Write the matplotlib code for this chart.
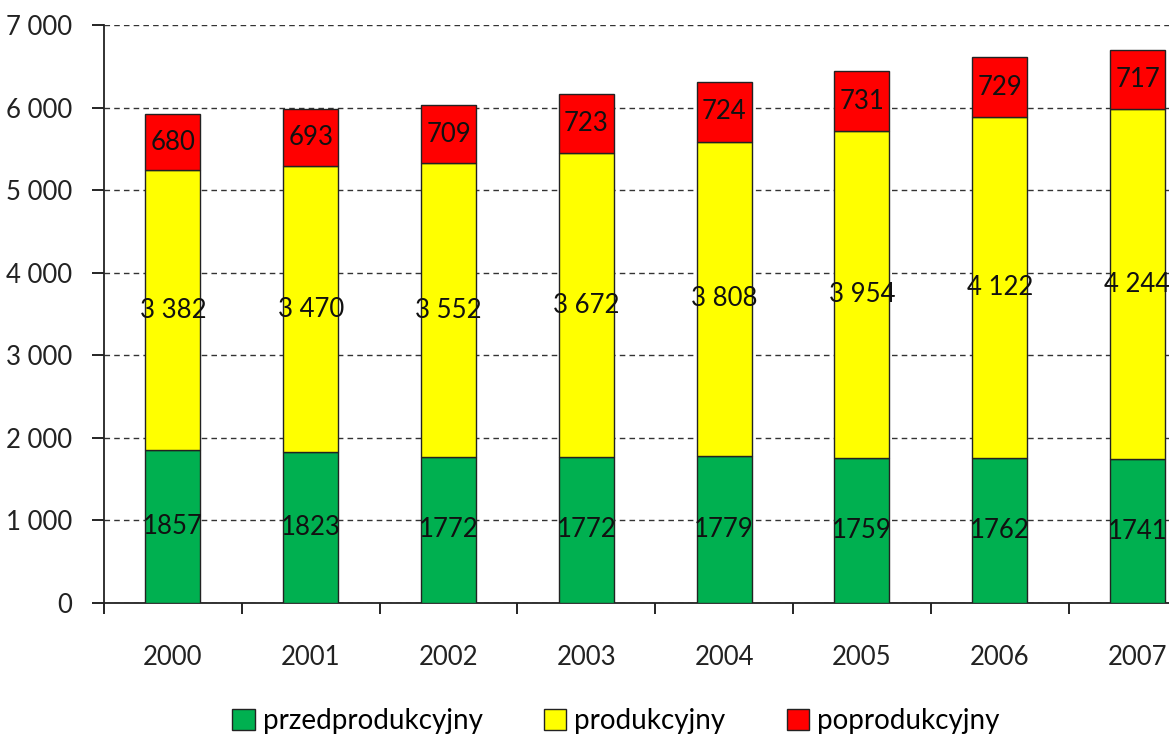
import numpy as np
import matplotlib.pyplot as plt
from matplotlib.ticker import FuncFormatter, FixedLocator
from matplotlib.patches import Patch

plt.rcParams['font.family'] = ['Lato', 'DejaVu Sans']

# data
years = ['2000', '2001', '2002', '2003', '2004', '2005', '2006', '2007']
przed = [1857, 1823, 1772, 1772, 1779, 1759, 1762, 1741]
prod = [3382, 3470, 3552, 3672, 3808, 3954, 4122, 4244]
popr = [680, 693, 709, 723, 724, 731, 729, 717]
series_names = ['przedprodukcyjny', 'produkcyjny', 'poprodukcyjny']
colors = ['#00B050', '#FFFF00', '#FF0000']

W, H = 1169, 734
fig = plt.figure(figsize=(W / 100, H / 100), dpi=100)
# axes extends past the right edge like the original crop
x0, x1 = 104, 104 + 8 * 137.8
y0, y1 = 603, 25
ax = fig.add_axes([x0 / W, 1 - y0 / H, (x1 - x0) / W, (y0 - y1) / H])

x = np.arange(len(years))
bottom = np.zeros(len(years))
for vals, col in zip([przed, prod, popr], colors):
    vals = np.array(vals)
    ax.bar(x, vals, width=0.4, bottom=bottom, color=col, edgecolor='#222222',
           linewidth=1.0, zorder=3)
    for xi, b, v in zip(x, bottom, vals):
        lab = f'{v:,}'.replace(',', ' ') if v >= 2000 else str(v)
        ax.text(xi, b + v / 2, lab, ha='center', va='center', fontsize=18.5,
                color='#111111', zorder=4)
    bottom += vals

ax.set_xlim(-0.5, len(years) - 0.5)
ax.set_ylim(0, 7000)
ax.set_yticks(np.arange(0, 7001, 1000))
ax.yaxis.set_major_formatter(FuncFormatter(lambda v, p: f'{int(v):,}'.replace(',', ' ')))
ax.grid(axis='y', linestyle=(0, (4, 3)), color='#333333', linewidth=1.0, zorder=0)

ax.xaxis.set_major_locator(FixedLocator(np.arange(-0.5, len(years), 1.0)))
ax.xaxis.set_minor_locator(FixedLocator(x))
ax.set_xticklabels([''] * len(ax.get_xticks()))
ax.set_xticklabels(years, minor=True)
ax.tick_params(axis='x', which='major', length=8, width=1.2, direction='out')
ax.tick_params(axis='x', which='minor', length=0, pad=30, labelsize=18.5, labelcolor='#222222')
ax.tick_params(axis='y', length=9, width=1.2, direction='out', pad=14, labelsize=18.5,
               labelcolor='#222222')

for s in ['top', 'right']:
    ax.spines[s].set_visible(False)
for s in ['left', 'bottom']:
    ax.spines[s].set_linewidth(1.3)
    ax.spines[s].set_color('#222222')

handles = [Patch(facecolor=c, edgecolor='#222222', label=n) for c, n in zip(colors, series_names)]
fig.legend(handles=handles, loc='center', bbox_to_anchor=(616 / W, 1 - 721 / H), ncol=3,
           frameon=False, fontsize=20, handlelength=0.8, handleheight=0.8,
           handletextpad=0.3, columnspacing=2.2)

fig.savefig('out.png', dpi=100)
